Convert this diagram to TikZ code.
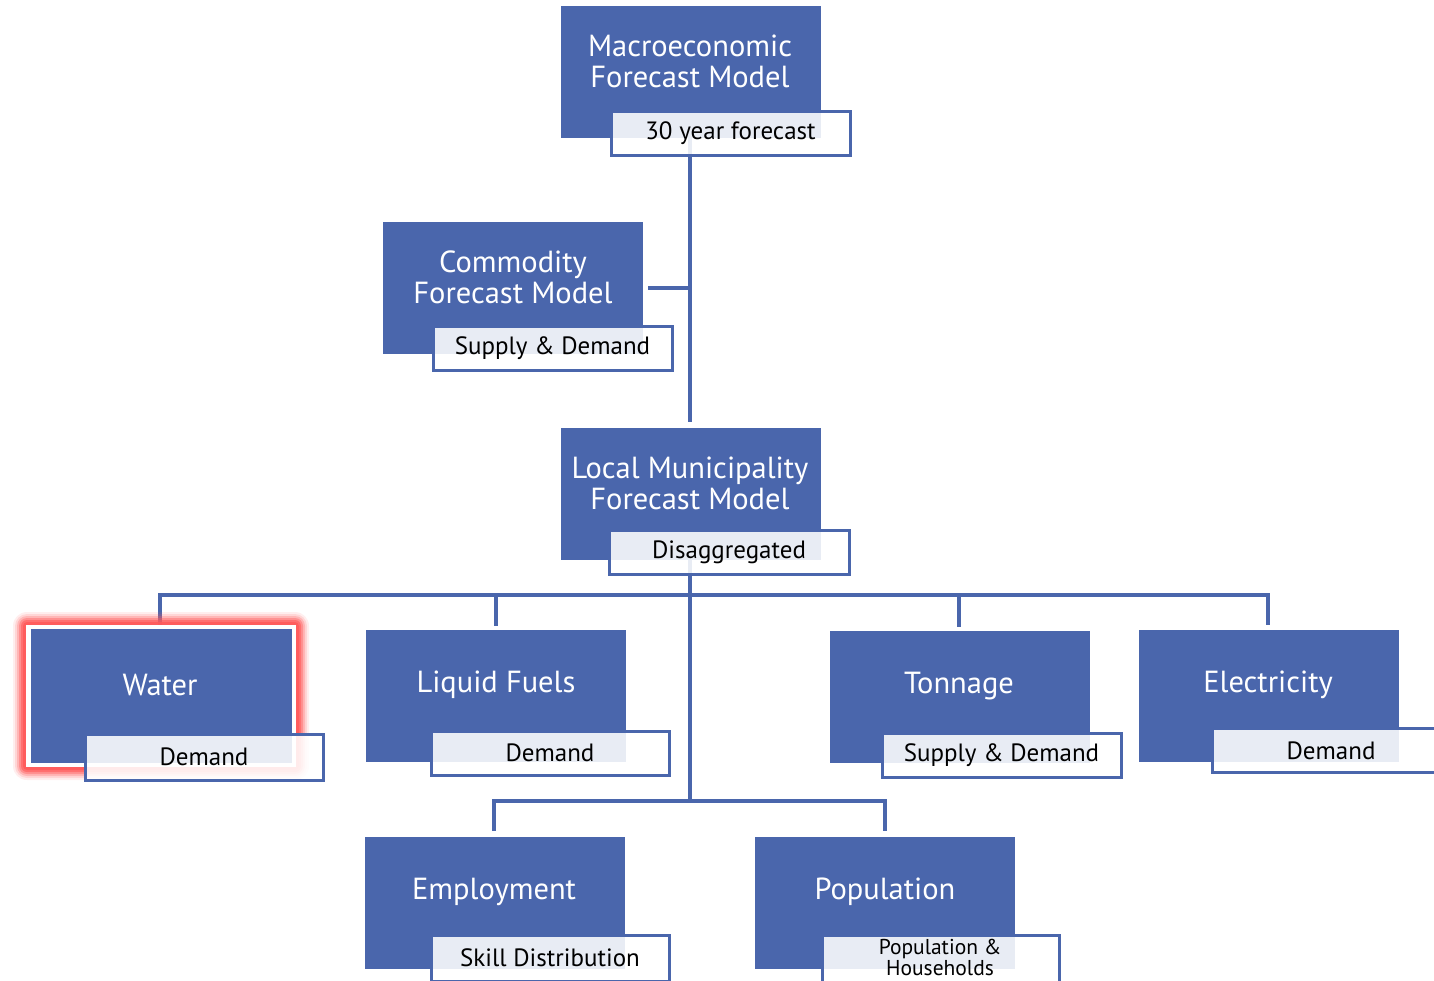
\documentclass[tikz,border=0pt]{standalone}
\usepackage{fontspec}
\setmainfont{PT Sans}
\begin{document}
\definecolor{boxblue}{RGB}{74,102,172}
\definecolor{glowred}{RGB}{255,90,90}
\begin{tikzpicture}[x=1pt,y=-1pt,
  model/.style={fill=boxblue, draw=none, minimum width=260pt, minimum height=132pt, inner sep=0pt},
  modeltext/.style={text=white, font=\fontsize{30.5}{31}\selectfont, align=center, inner sep=0pt},
  tag/.style={draw=boxblue, line width=3pt, fill=white, fill opacity=0.88, text opacity=1,
    minimum width=236pt, minimum height=44pt, inner sep=0pt, font=\fontsize{25}{26}\selectfont, text=black},
  link/.style={draw=boxblue, line width=3.3pt}
]
\useasboundingbox (0,0) rectangle (1434,980);

% junction points of the tree
\coordinate (bus) at (690,595);
\coordinate (bus2) at (690,801);

% ---- connectors (drawn first, boxes cover them) ----
\draw[link] (690,138) -- (690,422);
\draw[link] (648,288) -- (690,288);
\draw[link] (690,560) -- (bus2);
\draw[link] (160,625) -- (160,595) -- (1268,595) -- (1268,625);
\draw[link] (496,595) -- (496,626);
\draw[link] (959,595) -- (959,627);
\draw[link] (494,831) -- (494,801) -- (885,801) -- (885,831);

% ---- glow around the highlighted box ----
\foreach \d/\o in {14/0.10,12/0.16,10/0.26,8/0.4,6/0.6,4/0.85}
  \fill[glowred, opacity=\o, rounded corners=\d pt] (27-\d,626-\d) rectangle (295+\d,766+\d);
\fill[white] (26,625) rectangle (296,767);

% ---- model boxes ----
\node[model] (macro) at (691,72) {};
\node[model] (comm) at (513,288) {};
\node[model] (local) at (691,494) {};
\node[model, minimum width=261pt, minimum height=134pt] (water) at (161,696) {};
\node[model] (fuels) at (496,696) {};
\node[model] (tonnage) at (959.5,697) {};
\node[model] (elec) at (1268.5,696) {};
\node[model] (employ) at (495,903) {};
\node[model] (popul) at (885,903) {};

% ---- box titles ----
\node[modeltext] (macrot) at (690,61.5) {Macroeconomic\\Forecast Model};
\node[modeltext] (commt) at (513,277.5) {Commodity\\Forecast Model};
\node[modeltext] (localt) at (690,483.5) {Local Municipality\\Forecast Model};
\node[modeltext] (watert) at (160,685) {Water};
\node[modeltext] (fuelst) at (496,685) {Liquid Fuels};
\node[modeltext] (tonnaget) at (959,686) {Tonnage};
\node[modeltext] (elect) at (1268,685) {Electricity};
\node[modeltext] (employt) at (494,892) {Employment};
\node[modeltext] (popult) at (885,892) {Population};

% ---- tags ----
\node[tag, minimum width=239pt] (macrotag) at (730.5,133.5) {30 year forecast};
\node[tag, minimum width=239pt] (commtag) at (552.5,348.5) {Supply \& Demand};
\node[tag, minimum width=240pt] (localtag) at (729,552.5) {Disaggregated};
\node[tag, minimum width=238pt, minimum height=46pt] (watertag) at (204,757) {Demand};
\node[tag, minimum width=238pt] (fuelstag) at (550,753) {Demand};
\node[tag, minimum width=239pt] (tonnagetag) at (1001.5,755) {Supply \& Demand};
\node[tag, minimum width=238pt] (electag) at (1331,750.5) {Demand};
\node[tag, minimum width=238pt, minimum height=46pt] (employtag) at (550,958) {Skill Distribution};
\node[tag, minimum width=237pt, minimum height=48pt] (popultag) at (940.5,959) {};
\node[align=center, inner sep=0pt, text=black, font=\fontsize{21.5}{21}\selectfont]
  (popultagt) at (940,957) {Population \&\\Households};
\end{tikzpicture}
\end{document}
